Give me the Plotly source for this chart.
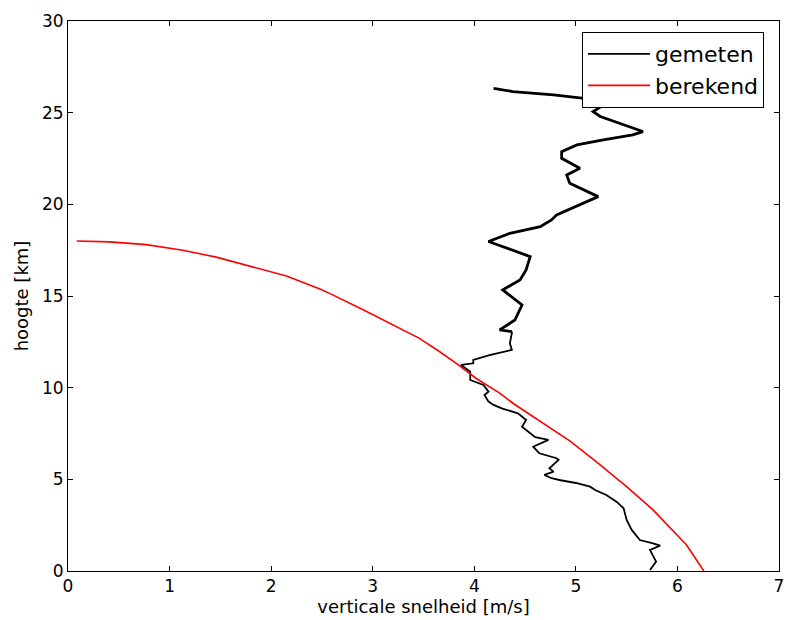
import plotly.graph_objects as go

# gemeten (measured): height [km] and vertical speed [m/s] — lower part
gem_h = [0.05, 0.51, 1.15, 1.38, 1.51, 1.69, 2.24, 2.78, 3.42, 3.78, 4.15, 4.42, 4.6, 4.8, 4.95,
         5.06, 5.24, 5.42, 5.6, 6.06, 6.15, 6.42, 6.78, 7.15, 7.3, 7.51, 7.87, 8.24, 8.6, 8.87,
         9.06, 9.24, 9.6, 9.78, 10.15, 10.42, 10.87, 11.24, 11.33, 11.51, 11.78, 12.06, 12.42,
         12.97, 13.06]
gem_v = [5.73, 5.79, 5.73, 5.83, 5.76, 5.63, 5.55, 5.5, 5.47, 5.4, 5.3, 5.19, 5.14, 5.0, 4.85,
         4.76, 4.69, 4.78, 4.74, 4.83, 4.81, 4.64, 4.58, 4.73, 4.6, 4.55, 4.47, 4.51, 4.43, 4.27,
         4.19, 4.14, 4.1, 4.14, 4.09, 3.96, 3.96, 3.87, 3.99, 3.99, 4.15, 4.37, 4.35,
         4.37, 4.37]
# gemeten — upper part
gem_h_top = [13.06, 13.15, 13.69, 14.51, 15.33, 15.88, 16.42, 17.15, 17.97, 18.42, 18.78,
             19.15, 19.42, 19.97, 20.42, 21.15, 21.6, 21.97, 22.51, 22.87, 23.24, 23.51, 23.79,
             23.97, 24.42, 24.79, 25.06, 25.51, 25.79, 25.97, 26.15, 26.33]
gem_v_top = [4.37, 4.25, 4.4, 4.47, 4.28, 4.45, 4.51, 4.55, 4.14, 4.35, 4.65,
             4.76, 4.81, 5.04, 5.22, 4.94, 4.91, 5.04, 4.86, 4.86, 5.01, 5.27, 5.56,
             5.66, 5.43, 5.24, 5.17, 5.3, 5.06, 4.78, 4.38, 4.19]

# berekend (calculated)
ber_v = [0.086, 0.41, 0.77, 1.13, 1.46, 1.82, 2.15, 2.48, 2.58, 2.94, 3.27, 3.46, 3.66, 3.83,
         4.02, 4.25, 4.38, 4.68, 4.94, 5.2, 5.5, 5.76, 6.09, 6.26]
ber_h = [18.0, 17.95, 17.8, 17.5, 17.12, 16.6, 16.09, 15.38, 15.13, 14.15, 13.24, 12.69, 11.96,
         11.3, 10.5, 9.7, 9.15, 8.06, 7.1, 5.96, 4.6, 3.33, 1.42, 0.0]

x_ticks = [0, 1, 2, 3, 4, 5, 6, 7]
y_ticks = [0, 5, 10, 15, 20, 25, 30]

FONT = "DejaVu Sans"

fig = go.Figure()
fig.add_trace(go.Scatter(x=gem_v, y=gem_h, mode="lines", name="gemeten",
                         legendgroup="g", line=dict(color="black", width=1.8)))
fig.add_trace(go.Scatter(x=gem_v_top, y=gem_h_top, mode="lines", name="gemeten",
                         legendgroup="g", showlegend=False,
                         line=dict(color="black", width=2.8)))
fig.add_trace(go.Scatter(x=ber_v, y=ber_h, mode="lines", name="berekend",
                         line=dict(color="red", width=1.6)))

axis_common = dict(
    showgrid=False, zeroline=False, showline=True, linecolor="black", linewidth=1,
    mirror="allticks", ticks="inside", ticklen=5, tickwidth=1, tickcolor="black",
    tickfont=dict(family=FONT, size=17, color="black"), automargin=False,
)
fig.update_xaxes(range=[0, 7], tickvals=x_ticks, ticktext=[str(t) for t in x_ticks],
                 title=dict(text="verticale snelheid [m/s]", font=dict(family=FONT, size=18, color="black"),
                            standoff=4),
                 **axis_common)
fig.update_yaxes(range=[0, 30], tickvals=y_ticks, ticktext=[str(t) for t in y_ticks],
                 title=dict(text="hoogte [km]", font=dict(family=FONT, size=18, color="black"),
                            standoff=8),
                 **axis_common)

fig.update_layout(
    width=787, height=620,
    margin=dict(l=68, r=8, t=21, b=49),
    plot_bgcolor="white", paper_bgcolor="white",
    font=dict(family=FONT, color="black"),
    legend=dict(x=0.723, y=0.98, xanchor="left", yanchor="top",
                bordercolor="black", borderwidth=1, bgcolor="white",
                font=dict(family=FONT, size=22, color="black"),
                itemwidth=62, tracegroupgap=0),
)

fig.write_html("out.html")
